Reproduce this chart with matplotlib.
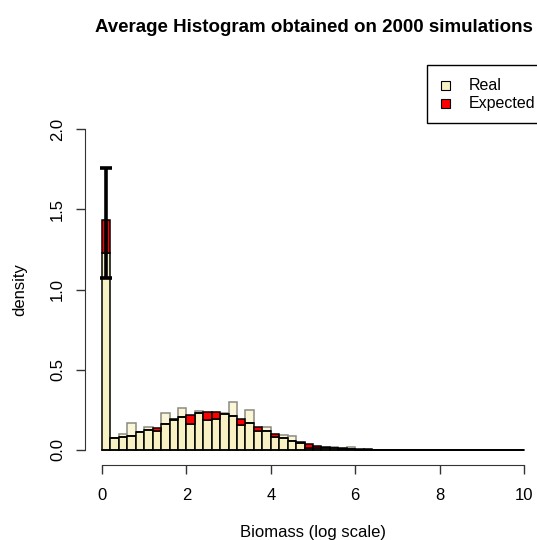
import matplotlib
matplotlib.use("Agg")
import matplotlib.pyplot as plt
from matplotlib.patches import Rectangle
import numpy as np

plt.rcParams['font.family'] = ['Liberation Sans', 'DejaVu Sans']

# ---- data ----
bin_edges = np.round(np.arange(0, 10.0001, 0.2), 3)
real = [1.23, 0.075, 0.10, 0.17, 0.11, 0.145, 0.12, 0.23, 0.19, 0.26,
        0.165, 0.24, 0.185, 0.195, 0.23, 0.30, 0.155, 0.25, 0.12, 0.145,
        0.08, 0.095, 0.09, 0.045, 0.013, 0.01, 0.012, 0.016, 0.005, 0.018,
        0.003, 0.002, 0.002, 0.001, 0.001, 0.001, 0.0005, 0.0005, 0, 0,
        0, 0, 0, 0, 0, 0, 0, 0, 0, 0]
expected = [1.43, 0.072, 0.08, 0.09, 0.11, 0.125, 0.14, 0.165, 0.195, 0.205,
            0.215, 0.23, 0.235, 0.235, 0.225, 0.21, 0.195, 0.17, 0.145, 0.12,
            0.10, 0.075, 0.058, 0.047, 0.035, 0.027, 0.02, 0.012, 0.01, 0.006,
            0.005, 0.004, 0.003, 0.003, 0.002, 0.002, 0.001, 0.001, 0, 0,
            0, 0, 0, 0, 0, 0, 0, 0, 0, 0]
err_low, err_high = 1.07, 1.76
xticks = [0, 2, 4, 6, 8, 10]
yticks = [0.0, 0.5, 1.0, 1.5, 2.0]
title = "Average Histogram obtained on 2000 simulations"
xlabel = "Biomass (log scale)"
ylabel = "density"
legend_labels = ["Real", "Expected"]

BEIGE = "#F8F1C3"
LIGHT = "#FBF6D8"
RED = "#FF0000"

W, H = 537, 540
fig = plt.figure(figsize=(W / 100, H / 100), dpi=100)
ax = fig.add_axes([85.1 / W, 1 - 462.84 / H, 455.8 / W, 346.68 / H])
ax.set_xlim(-0.4, 10.4)
ax.set_ylim(-0.08, 2.08)

left = np.array(bin_edges[:-1])
width = np.diff(bin_edges)
real_a = np.array(real)
exp_a = np.array(expected)
lo = np.minimum(real_a, exp_a)
up_real = np.where(real_a > exp_a, real_a - exp_a, 0)
up_exp = np.where(exp_a > real_a, exp_a - real_a, 0)

# lower common part
ax.bar(left, lo, width=width, align='edge', color=BEIGE, edgecolor='black', linewidth=1.1, zorder=2)
# excess of real over expected (lighter, gray edge)
ax.bar(left, up_real, bottom=lo, width=width, align='edge', color=LIGHT, edgecolor='#8a8a80', linewidth=1.1, zorder=1.9)
# excess of expected over real (red)
ax.bar(left, up_exp, bottom=lo, width=width, align='edge', color=RED, edgecolor='black', linewidth=1.1, zorder=2.1)
ax.plot([0, 10], [0, 0], color='black', lw=1.1, zorder=3)

# error bar on first bin
xc = left[0] + width[0] / 2
ax.errorbar([xc], [(err_low + err_high) / 2], yerr=[[(err_high - err_low) / 2]],
            fmt='none', ecolor='black', elinewidth=2.6, capsize=4.0, capthick=2.6, zorder=4)

for s in ['top', 'right']:
    ax.spines[s].set_visible(False)
ax.spines['left'].set_bounds(0, 2)
ax.spines['bottom'].set_bounds(0, 10)
ax.spines['bottom'].set_position(('data', -0.094))
ax.spines['left'].set_color('#333333')
ax.spines['bottom'].set_color('#333333')
ax.set_xticks(xticks)
ax.set_xticklabels([str(t) for t in xticks])
ax.set_yticks(yticks)
ax.set_yticklabels(["%.1f" % t for t in yticks])
ax.tick_params(axis='both', length=6.5, width=1.0, color='#333333', labelsize=12, direction='out')
ax.tick_params(axis='x', pad=10)
ax.tick_params(axis='y', pad=8)
for lab in ax.get_yticklabels():
    lab.set_rotation(90)
    lab.set_va('center')

fig.text(314 / W, 1 - 28 / H, title, ha='center', va='center', fontsize=13.5, fontweight='bold')
fig.text(313 / W, 1 - 533 / H, xlabel, ha='center', va='center', fontsize=12)
fig.text(20 / W, 1 - 290 / H, ylabel, ha='center', va='center', fontsize=12, rotation=90)

# legend drawn manually
fig.patches.append(Rectangle((427 / W, 1 - 123 / H), 130 / W, 58 / H, transform=fig.transFigure,
                             facecolor='white', edgecolor='black', linewidth=1.0))
fig.patches.append(Rectangle((441 / W, 1 - 89.5 / H), 8.5 / W, 8 / H, transform=fig.transFigure,
                             facecolor=BEIGE, edgecolor='black', linewidth=0.8))
fig.patches.append(Rectangle((441 / W, 1 - 107.5 / H), 8.5 / W, 8 / H, transform=fig.transFigure,
                             facecolor=RED, edgecolor='black', linewidth=0.8))
fig.text(469 / W, 1 - 85.5 / H, legend_labels[0], ha='left', va='center', fontsize=11.5)
fig.text(469 / W, 1 - 103.5 / H, legend_labels[1], ha='left', va='center', fontsize=11.5)

fig.savefig("out.png", dpi=100)
